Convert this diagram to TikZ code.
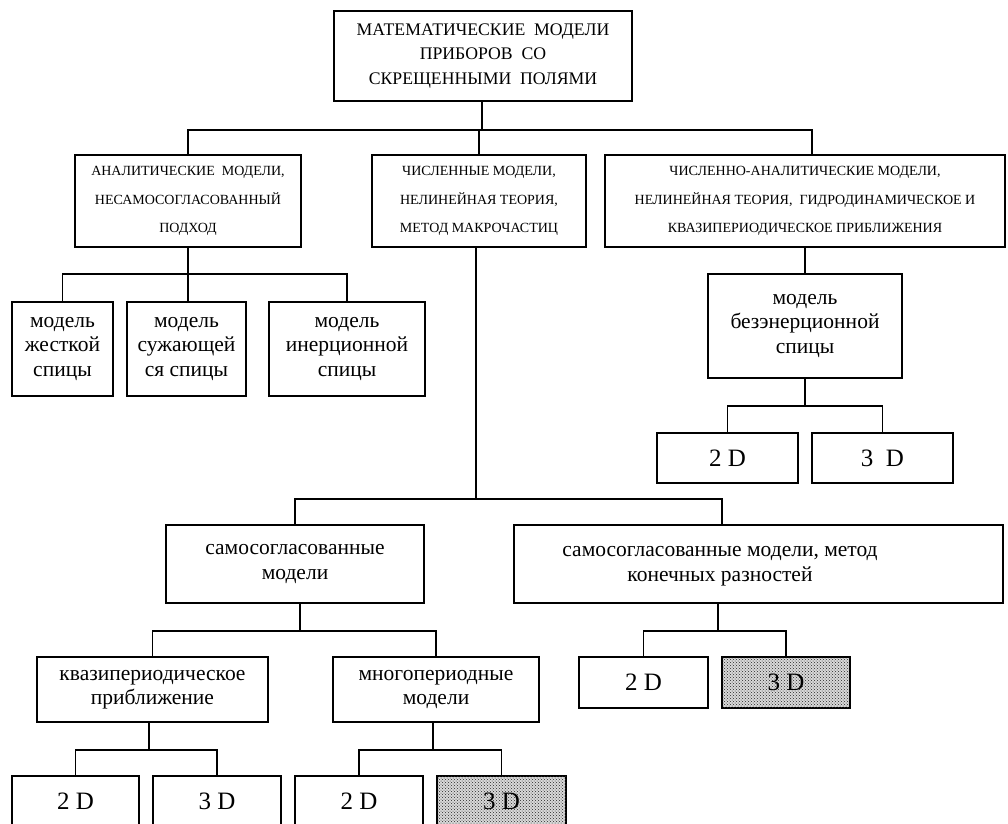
\documentclass[tikz,border=0pt]{standalone}
\usepackage{fontspec}
\setmainfont{Liberation Serif}
\usetikzlibrary{patterns}

\newcommand{\fTop}{\fontsize{17.7}{24.5}\selectfont}
\newcommand{\fCaps}{\fontsize{14}{28.5}\selectfont}
\newcommand{\fLow}{\fontsize{21.5}{24.5}\selectfont}
\newcommand{\fDim}{\fontsize{25}{28}\selectfont}

\tikzset{
  box/.style={draw, line width=1.1pt, inner sep=0pt, align=center, fill=white},
  shaded/.style={box, fill=gray!30,
    postaction={pattern=crosshatch dots, pattern color=black!85}},
  conn/.style={line width=1.1pt},
}

\begin{document}
\begin{tikzpicture}[x=1pt, y=-1pt]
\useasboundingbox (0,0) rectangle (1008,823);
\clip (0,0) rectangle (1008,823);

% root
\node[box, minimum width=298pt, minimum height=90pt, font=\fTop] (T) at (483,56)
  {МАТЕМАТИЧЕСКИЕ~ МОДЕЛИ\\ПРИБОРОВ~ СО\\СКРЕЩЕННЫМИ~ ПОЛЯМИ};

% second level
\node[box, minimum width=226pt, minimum height=92pt, font=\fCaps] (A) at (188,201)
  {АНАЛИТИЧЕСКИЕ~ МОДЕЛИ,\\НЕСАМОСОГЛАСОВАННЫЙ\\ПОДХОД};
\node[box, minimum width=214pt, minimum height=92pt, font=\fCaps] (B) at (479,201)
  {ЧИСЛЕННЫЕ МОДЕЛИ,\\НЕЛИНЕЙНАЯ ТЕОРИЯ,\\МЕТОД МАКРОЧАСТИЦ};
\node[box, minimum width=400pt, minimum height=92pt, font=\fCaps] (C) at (805,201)
  {ЧИСЛЕННО-АНАЛИТИЧЕСКИЕ МОДЕЛИ,\\НЕЛИНЕЙНАЯ ТЕОРИЯ,~ ГИДРОДИНАМИЧЕСКОЕ И\\КВАЗИПЕРИОДИЧЕСКОЕ ПРИБЛИЖЕНИЯ};

% analytical models
\node[box, minimum width=101pt, minimum height=94pt, font=\fLow] (E) at (62.5,349)
  {модель\\жесткой\\спицы};
\node[box, minimum width=119pt, minimum height=94pt, font=\fLow] (F) at (186.5,349)
  {модель\\сужающей\\ся спицы};
\node[box, minimum width=156pt, minimum height=94pt, font=\fLow] (G) at (347,349)
  {модель\\инерционной\\спицы};

% numerical-analytical branch
\node[box, minimum width=194pt, minimum height=104pt, font=\fLow] (D) at (805,326)
  {модель\\безэнерционной\\спицы};
\node[box, minimum width=141pt, minimum height=50pt, font=\fDim] (H) at (727.5,458) {2 D};
\node[box, minimum width=141pt, minimum height=50pt, font=\fDim] (I) at (882.5,458) {3~ D};

% numerical branch
\node[box, minimum width=258pt, minimum height=78pt, font=\fLow] (J) at (295,564)
  {самосогласованные\\модели};
% the label of this box sits left of its centre, over the connector
\node[box, minimum width=489pt, minimum height=78pt, font=\fLow] (K) at (758.5,564)
  {\begin{tabular}{@{}c@{}}самосогласованные модели, метод\\конечных разностей\end{tabular}\hspace*{77pt}};

\node[box, minimum width=231pt, minimum height=65pt, font=\fLow] (L) at (152.5,689.5)
  {квазипериодическое\\приближение};
\node[box, minimum width=206pt, minimum height=65pt, font=\fLow] (M) at (436,689.5)
  {многопериодные\\модели};

\node[box, minimum width=129pt, minimum height=51pt, font=\fDim] (P1) at (643.5,682.5) {2 D};
\node[shaded, minimum width=128pt, minimum height=51pt, font=\fDim] (P2) at (786,682.5) {3 D};

\node[box, minimum width=127pt, minimum height=51pt, font=\fDim] (N1) at (75.5,801.5) {2 D};
\node[box, minimum width=128pt, minimum height=51pt, font=\fDim] (N2) at (217,801.5) {3 D};
\node[box, minimum width=128pt, minimum height=51pt, font=\fDim] (N3) at (359,801.5) {2 D};
\node[shaded, minimum width=129pt, minimum height=51pt, font=\fDim] (N4) at (501.5,801.5) {3 D};

% connectors
\coordinate (j0) at (482,130);
\draw[conn] (T.south -| j0) -- (j0);
\draw[conn] (A.north) |- (j0) -| ([xshift=7pt]C.north);
\draw[conn] (B.north) -- (B.north |- j0);

\coordinate (jA) at (A.south |- 0,274);
\draw[conn] (A.south) -- (F.north -| A.south);
\draw[conn] (E.north) |- (jA) -| (G.north);

\draw[conn] (C.south) -- (D.north);
\coordinate (jD) at (D.south |- 0,406);
\draw[conn] (D.south) -- (jD);
\draw[conn] (H.north) |- (jD) -| (I.north);

\coordinate (jB) at (476,499);
\draw[conn] (B.south -| jB) -- (jB);
\draw[conn] (J.north) |- (jB) -| ([xshift=-36.5pt]K.north);

\coordinate (jJ) at (300,631);
\draw[conn] (J.south -| jJ) -- (jJ);
\draw[conn] (L.north) |- (jJ) -| (M.north);

\coordinate (jL) at (149,750);
\draw[conn] (L.south -| jL) -- (jL);
\draw[conn] (N1.north) |- (jL) -| (N2.north);

\coordinate (jM) at (433,750);
\draw[conn] (M.south -| jM) -- (jM);
\draw[conn] (N3.north) |- (jM) -| (N4.north);

\coordinate (jK) at (718,631);
\draw[conn] (K.south -| jK) -- (jK);
\draw[conn] (P1.north) |- (jK) -| (P2.north);
\end{tikzpicture}
\end{document}
